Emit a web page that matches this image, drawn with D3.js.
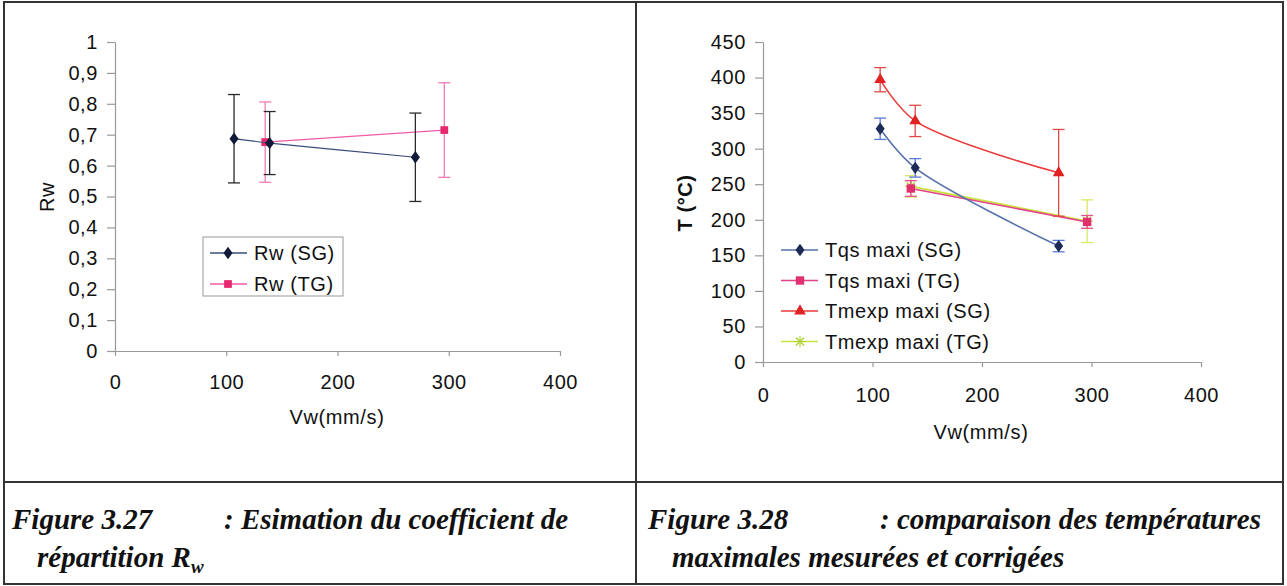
<!DOCTYPE html>
<html><head><meta charset="utf-8">
<script src="https://cdn.jsdelivr.net/npm/d3@7"></script>
<style>
html,body{margin:0;padding:0;background:#fff;}
svg{display:block;}
</style></head>
<body>
<svg id="c" width="1287" height="586" font-family="'Liberation Sans', Arial, sans-serif"></svg>
<script>
// ---------- data ----------
const vwSG = [107, 139, 270];
const vwTG = [135, 296];

const rwSG = [0.687, 0.673, 0.627];
const rwSGerr = [0.143, 0.102, 0.143];
const rwTG = [0.676, 0.715];
const rwTGerr = [0.130, 0.153];

const tqsSG = [328, 273, 163];
const tqsSGerr = [15, 13, 8];
const tqsTG = [244, 197];
const tqsTGerr = [11, 9];
const tmexpSG = [397, 339, 266];
const tmexpSGerr = [17, 22, 61];
const tmexpTG = [247, 198];
const tmexpTGerr = [15, 30];

const xTicks = [0, 100, 200, 300, 400];
const rwTicks = [0, 0.1, 0.2, 0.3, 0.4, 0.5, 0.6, 0.7, 0.8, 0.9, 1];
const tTicks = [0, 50, 100, 150, 200, 250, 300, 350, 400, 450];

const leftLegend = ["Rw (SG)", "Rw (TG)"];
const rightLegend = ["Tqs maxi (SG)", "Tqs maxi (TG)", "Tmexp maxi (SG)", "Tmexp maxi (TG)"];

// ---------- drawing ----------
const svg = d3.select("#c");
const SANS = "'Liberation Sans', Arial, sans-serif";
const SERIF = "'Liberation Serif', 'Times New Roman', serif";

// frame
const frame = svg.append("g").attr("stroke", "#333").attr("fill", "none");
frame.append("rect").attr("x", 4).attr("y", 2).attr("width", 1279).attr("height", 582).attr("stroke-width", 2);
frame.append("line").attr("x1", 636).attr("x2", 636).attr("y1", 2).attr("y2", 584).attr("stroke-width", 2);
frame.append("line").attr("x1", 4).attr("x2", 1283).attr("y1", 482).attr("y2", 482).attr("stroke-width", 2);

function styleAxis(g) {
  g.select(".domain").attr("stroke", "#999").attr("stroke-width", 1.2);
  g.selectAll(".tick line").attr("stroke", "#999").attr("stroke-width", 1.2);
  g.selectAll(".tick text").attr("font-size", 20).attr("fill", "#111")
    .attr("font-family", SANS).attr("letter-spacing", "0.6px");
}

const fmtComma = d => d3.format("~g")(d).replace(".", ",");

function marker(g, type, x, y, fill, size) {
  if (type === "diamond") {
    g.append("path").attr("d", d3.symbol(d3.symbolDiamond, size * 1.2)())
      .attr("transform", `translate(${x},${y}) scale(1.15,0.9)`).attr("fill", fill);
  } else if (type === "square") {
    g.append("path").attr("d", d3.symbol(d3.symbolSquare, size)())
      .attr("transform", `translate(${x},${y})`).attr("fill", fill);
  } else if (type === "triangle") {
    g.append("path").attr("d", d3.symbol(d3.symbolTriangle, size)())
      .attr("transform", `translate(${x},${y})`).attr("fill", fill);
  } else if (type === "star") {
    g.append("path").attr("d", d3.symbol(d3.symbolX, size * 0.9)())
      .attr("transform", `translate(${x},${y})`).attr("fill", "none").attr("stroke", fill).attr("stroke-width", 1.5);
    g.append("path").attr("d", d3.symbol(d3.symbolX, size * 0.9)())
      .attr("transform", `translate(${x},${y}) rotate(45)`).attr("fill", "none").attr("stroke", fill).attr("stroke-width", 1.2);
  }
}

function drawSeries(g, xs, ys, errs, xScale, yScale, o) {
  const pts = xs.map((x, i) => [xScale(x), yScale(ys[i])]);
  xs.forEach((x, i) => {
    const px = xScale(x), y1 = yScale(ys[i] + errs[i]), y0 = yScale(ys[i] - errs[i]);
    g.append("line").attr("x1", px).attr("x2", px).attr("y1", y1).attr("y2", y0)
      .attr("stroke", o.errColor).attr("stroke-width", 1.3);
    [y0, y1].forEach(yy => g.append("line").attr("x1", px - o.cap).attr("x2", px + o.cap)
      .attr("y1", yy).attr("y2", yy).attr("stroke", o.errColor).attr("stroke-width", 1.3));
  });
  const line = d3.line().curve(o.smooth ? d3.curveCatmullRom.alpha(0.5) : d3.curveLinear);
  g.append("path").attr("d", line(pts)).attr("fill", "none")
    .attr("stroke", o.lineColor).attr("stroke-width", o.lw);
  pts.forEach(p => marker(g, o.marker, p[0], p[1], o.markerColor, o.msize));
}

// ===== Left chart =====
const xL = d3.scaleLinear().domain([0, 400]).range([115, 560]);
const yL = d3.scaleLinear().domain([0, 1]).range([351, 42]);
const gL = svg.append("g");

gL.append("g").attr("transform", "translate(0,351)")
  .call(d3.axisBottom(xL).tickValues(xTicks).tickSize(5).tickSizeOuter(0).tickPadding(19))
  .call(styleAxis);
gL.append("g").attr("transform", "translate(115,0)")
  .call(d3.axisLeft(yL).tickValues(rwTicks).tickFormat(fmtComma).tickSize(8).tickSizeOuter(0).tickPadding(9))
  .call(styleAxis);

gL.append("text").attr("transform", "translate(54,197) rotate(-90)").attr("text-anchor", "middle")
  .attr("font-size", 20).attr("fill", "#111").attr("letter-spacing", "0.6px").text("Rw");
gL.append("text").attr("x", 337).attr("y", 424).attr("text-anchor", "middle")
  .attr("font-size", 20).attr("fill", "#111").attr("letter-spacing", "0.6px").text("Vw(mm/s)");

const optRwSG = {lineColor: "#3b4c7c", markerColor: "#111a38", errColor: "#2a2a2a", marker: "diamond", msize: 45, lw: 1.2, cap: 6, smooth: true};
const optRwTG = {lineColor: "#f45aa6", markerColor: "#e8286e", errColor: "#f27ab6", marker: "square", msize: 60, lw: 1.3, cap: 6, smooth: true};
drawSeries(gL, vwTG, rwTG, rwTGerr, xL, yL, optRwTG);
drawSeries(gL, vwSG, rwSG, rwSGerr, xL, yL, optRwSG);

// left legend
const lgL = gL.append("g");
lgL.append("rect").attr("x", 203).attr("y", 237).attr("width", 140).attr("height", 59)
  .attr("fill", "#fff").attr("stroke", "#999").attr("stroke-width", 1);
[optRwSG, optRwTG].forEach((o, i) => {
  const yy = 253 + i * 31;
  lgL.append("line").attr("x1", 210).attr("x2", 247).attr("y1", yy).attr("y2", yy)
    .attr("stroke", o.lineColor).attr("stroke-width", 1.3);
  marker(lgL, o.marker, 228, yy, o.markerColor, o.msize);
  lgL.append("text").attr("x", 254).attr("y", yy + 7).attr("font-size", 20).attr("fill", "#111")
    .attr("letter-spacing", "0.6px").text(leftLegend[i]);
});

// ===== Right chart =====
const xR = d3.scaleLinear().domain([0, 400]).range([763, 1201]);
const yR = d3.scaleLinear().domain([0, 450]).range([362, 42]);
const gR = svg.append("g");

gR.append("g").attr("transform", "translate(0,362)")
  .call(d3.axisBottom(xR).tickValues(xTicks).tickSize(5).tickSizeOuter(0).tickPadding(21))
  .call(styleAxis);
gR.append("g").attr("transform", "translate(763,0)")
  .call(d3.axisLeft(yR).tickValues(tTicks).tickSize(8).tickSizeOuter(0).tickPadding(9))
  .call(styleAxis);

gR.append("text").attr("transform", "translate(692,203) rotate(-90)").attr("text-anchor", "middle")
  .attr("font-size", 20).attr("font-weight", "bold").attr("fill", "#111").attr("letter-spacing", "0.6px").text("T (°C)");
gR.append("text").attr("x", 981).attr("y", 439).attr("text-anchor", "middle")
  .attr("font-size", 20).attr("fill", "#111").attr("letter-spacing", "0.6px").text("Vw(mm/s)");

const optTqsSG = {lineColor: "#5572aa", markerColor: "#1c2a58", errColor: "#5a78d8", marker: "diamond", msize: 45, lw: 1.6, cap: 6, smooth: true};
const optTqsTG = {lineColor: "#e4428a", markerColor: "#e0306e", errColor: "#e2508a", marker: "square", msize: 70, lw: 1.6, cap: 6, smooth: true};
const optTmSG = {lineColor: "#ec3a3a", markerColor: "#e02222", errColor: "#e04848", marker: "triangle", msize: 60, lw: 1.6, cap: 6, smooth: true};
const optTmTG = {lineColor: "#c9e23c", markerColor: "#b0d43a", errColor: "#d8e860", marker: "star", msize: 50, lw: 1.8, cap: 6, smooth: true};

drawSeries(gR, vwTG, tmexpTG, tmexpTGerr, xR, yR, optTmTG);
drawSeries(gR, vwTG, tqsTG, tqsTGerr, xR, yR, optTqsTG);
drawSeries(gR, vwSG, tmexpSG, tmexpSGerr, xR, yR, optTmSG);
drawSeries(gR, vwSG, tqsSG, tqsSGerr, xR, yR, optTqsSG);

// right legend
const lgR = gR.append("g");
[optTqsSG, optTqsTG, optTmSG, optTmTG].forEach((o, i) => {
  const yy = 250 + i * 30.5;
  lgR.append("line").attr("x1", 781).attr("x2", 818).attr("y1", yy).attr("y2", yy)
    .attr("stroke", o.lineColor).attr("stroke-width", 1.6);
  marker(lgR, o.marker, 800, yy, o.markerColor, o.msize);
  lgR.append("text").attr("x", 825).attr("y", yy + 7).attr("font-size", 20).attr("fill", "#111")
    .attr("letter-spacing", "0.6px").text(rightLegend[i]);
});

// ===== captions =====
const cap = svg.append("g").attr("font-family", SERIF)
  .attr("font-style", "italic").attr("font-weight", "bold").attr("font-size", 29).attr("fill", "#111");
cap.append("text").attr("x", 12).attr("y", 529).text("Figure 3.27");
cap.append("text").attr("x", 224).attr("y", 529).text(": Esimation du coefficient de");
const l2 = cap.append("text").attr("x", 37).attr("y", 567);
l2.append("tspan").text("répartition R");
l2.append("tspan").attr("font-size", 19).attr("dy", 6).text("w");
cap.append("text").attr("x", 648).attr("y", 529).text("Figure 3.28");
cap.append("text").attr("x", 880).attr("y", 529).text(": comparaison des températures");
cap.append("text").attr("x", 672).attr("y", 567).text("maximales mesurées et corrigées");
</script>
</body></html>
